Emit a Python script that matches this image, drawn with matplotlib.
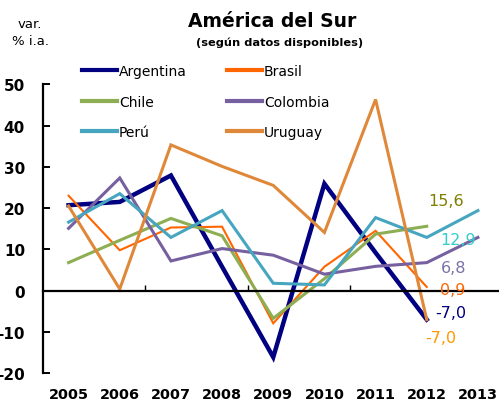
import matplotlib
matplotlib.use("Agg")
import matplotlib.pyplot as plt
from matplotlib.ticker import FixedLocator, NullFormatter

plt.rcParams['font.family'] = ['DejaVu Sans']

years = ["2005", "2006", "2007", "2008", "2009", "2010", "2011", "2012", "2013"]
argentina = [20.7, 21.5, 27.9, 5.8, -16.1, 25.9, 9.2, -7.0]
brasil = [23.0, 9.8, 15.3, 15.5, -7.9, 5.8, 14.5, 0.9]
chile = [6.8, 12.2, 17.5, 13.3, -6.7, 2.9, 13.7, 15.6]
colombia = [15.1, 27.3, 7.2, 10.2, 8.6, 4.0, 5.9, 6.8, 12.9]
peru = [16.6, 23.5, 12.9, 19.4, 1.8, 1.4, 17.7, 12.9, 19.4]
uruguay = [20.5, 0.4, 35.3, 30.1, 25.5, 14.1, 46.3, -7.0]
y_ticks = [-20, -10, 0, 10, 20, 30, 40, 50]

series = [
    ("Argentina", argentina, "#000080", 3.2),
    ("Brasil", brasil, "#FF6600", 1.5),
    ("Chile", chile, "#8DAE52", 2.2),
    ("Colombia", colombia, "#76609F", 2.2),
    ("Perú", peru, "#47A6BF", 2.2),
    ("Uruguay", uruguay, "#E0883A", 2.2),
]

W, H = 499, 410
fig = plt.figure(figsize=(W / 100, H / 100), dpi=100)
left_px, right_px = 43, 503.5
top_px, bot_px = 85.2, 374.3
ax = fig.add_axes([left_px / W, 1 - bot_px / H, (right_px - left_px) / W, (bot_px - top_px) / H])

handles = {}
for name, vals, col, lw in series:
    ln, = ax.plot(range(len(vals)), vals, color=col, lw=lw, label=name, solid_joinstyle='miter')
    handles[name] = ln

ax.set_xlim(-0.5, len(years) - 0.5)
ax.set_ylim(-20, 50)

for s in ['top', 'right']:
    ax.spines[s].set_visible(False)
ax.spines['left'].set_linewidth(1.6)
ax.spines['bottom'].set_position(('data', 0))
ax.spines['bottom'].set_linewidth(1.6)
ax.xaxis.set_major_locator(FixedLocator([1.5, 3.5, 5.5]))
ax.xaxis.set_major_formatter(NullFormatter())
ax.tick_params(axis='x', direction='in', length=4, width=1.0)

ax.set_yticks(y_ticks)
ax.set_yticklabels([str(v) for v in y_ticks], fontweight='bold', fontsize=11)
ax.tick_params(axis='y', direction='in', length=5, width=1.4, pad=13)

sec = ax.secondary_xaxis(0)
sec.set_xticks(range(len(years)))
sec.set_xticklabels(years, fontweight='bold', fontsize=10.4)
sec.tick_params(length=0, pad=10)
sec.spines['bottom'].set_visible(False)

# end labels
lab_kw = dict(textcoords='offset pixels', fontsize=11.5, va='center', ha='left')
ax.annotate("15,6", xy=(7, chile[7]), xytext=(2, 26), color="#808000", **lab_kw)
ax.annotate("12,9", xy=(7, peru[7]), xytext=(14, -2), color="#33CCCC", **lab_kw)
ax.annotate("6,8", xy=(7, colombia[7]), xytext=(14, -5), color="#7B73A8", **lab_kw)
ax.annotate("0,9", xy=(7, brasil[7]), xytext=(13, -3), color="#FF6600", **lab_kw)
ax.annotate("-7,0", xy=(7, argentina[7]), xytext=(8, 7), color="#000080", **lab_kw)
ax.annotate("-7,0", xy=(7, uruguay[7]), xytext=(-2, -18), color="#FF9900", **lab_kw)

# legend filled row-wise (matplotlib fills columns first)
order = ["Argentina", "Chile", "Perú", "Brasil", "Colombia", "Uruguay"]
leg = ax.legend([handles[n] for n in order], order, ncol=2, loc='upper left',
                bbox_to_anchor=(82 / W, 1 - 65 / H),
                bbox_transform=fig.transFigure, frameon=False, fontsize=10,
                handlelength=2.5, handletextpad=0.15, columnspacing=2.9,
                labelspacing=1.2, borderpad=0, borderaxespad=0)
for line in leg.get_lines():
    line.set_linewidth(3.0)

fig.text(272 / W, 1 - 27 / H, "América del Sur", fontsize=13.5, fontweight='bold',
         ha='center', va='baseline')
fig.text(280 / W, 1 - 46 / H, "(según datos disponibles)", fontsize=8.2, fontweight='bold',
         ha='center', va='baseline')
fig.text(30 / W, 1 - 28 / H, "var.", fontsize=9.5, ha='center', va='baseline')
fig.text(30 / W, 1 - 45 / H, "% i.a.", fontsize=9.5, ha='center', va='baseline')

fig.savefig("out.png", dpi=100)
